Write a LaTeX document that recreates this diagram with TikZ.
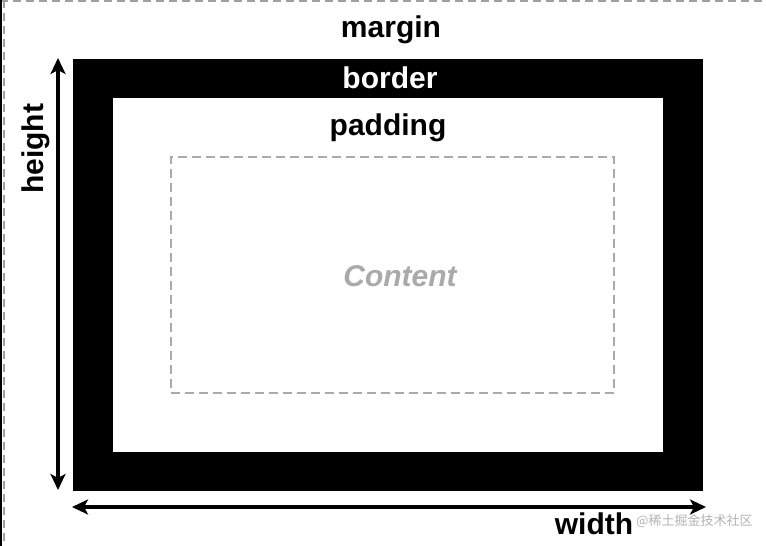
\documentclass[tikz,border=0pt]{standalone}
\usepackage{fontspec}
\setmainfont{Liberation Sans}
\newfontfamily\cjk{Noto Sans CJK SC}
\usetikzlibrary{arrows.meta}
\definecolor{dashgray}{HTML}{A0A0A0}
\definecolor{contentgray}{HTML}{AAAAAA}
\definecolor{wmgray}{HTML}{B4B4B4}
\begin{document}
\begin{tikzpicture}[x=1pt,y=-1pt,
  lbl/.style={font=\bfseries\fontsize{30}{32}\selectfont, inner sep=0pt},
  dim/.style={line width=3.2pt, {Stealth[length=16pt,width=15pt,inset=4pt]}-{Stealth[length=16pt,width=15pt,inset=4pt]}}]
\useasboundingbox (0,0) rectangle (766,546);
\fill[white] (0,0) rectangle (766,546);
% margin box edges
\draw[dashgray, line width=1.5pt, dash pattern=on 8pt off 5pt] (0,1) -- (766,1);
\draw[dashgray, line width=1.5pt, dash pattern=on 8pt off 5pt] (4,0) -- (4,546);
\draw[black, line width=1.5pt] (0.75,0) -- (0.75,546);
% border
\fill[black] (73,59) rectangle (703,491);
\fill[white] (113,98) rectangle (663,452);
% content
\node[draw=contentgray, dash pattern=on 9pt off 5pt, line width=2pt, minimum width=443pt, minimum height=236pt, inner sep=0pt] (content) at (392.5,275) {};
\node[lbl, text=contentgray, font=\bfseries\itshape\fontsize{30}{32}\selectfont] (contentlbl) at (400,276) {Content};
% labels
\node[lbl] (margin) at (391,30) {margin};
\node[lbl, text=white] (border) at (390,78) {border};
\node[lbl] (padding) at (388,128) {padding};
% dimension arrows
\coordinate (htop) at (58,58);
\coordinate (hbot) at (58,490);
\draw[dim] (htop) -- (hbot);
\node[lbl, rotate=90] (height) at (36,149) {height};
\coordinate (wl) at (72,507);
\coordinate (wr) at (706,507);
\draw[dim] (wl) -- (wr);
\node[inner sep=0pt, text=wmgray, font=\cjk\fontsize{13}{14}\selectfont, anchor=west] (wm) at (636,521) {@稀土掘金技术社区};
\node[lbl] (width) at (594,524) {width};
\end{tikzpicture}
\end{document}
